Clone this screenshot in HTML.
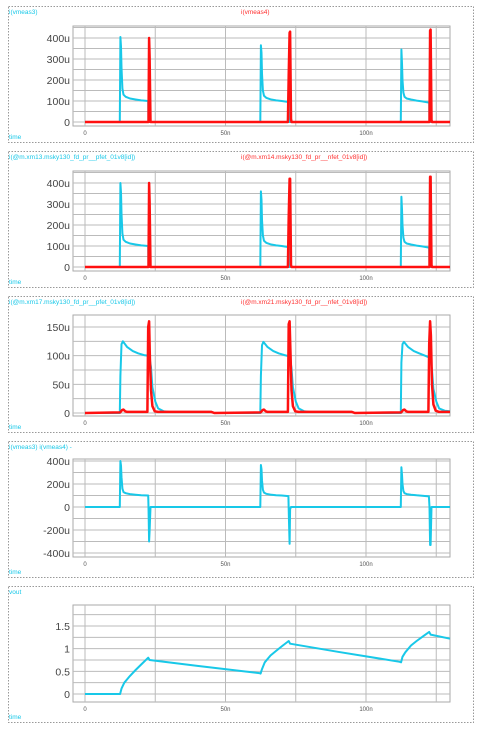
<!DOCTYPE html>
<html><head><meta charset="utf-8"><style>
html,body{margin:0;padding:0;background:#fff;width:482px;height:729px;overflow:hidden}
svg{display:block}
text{font-family:"Liberation Sans","DejaVu Sans",sans-serif}
</style></head><body>
<svg id="chart" width="482" height="729" xmlns="http://www.w3.org/2000/svg"></svg>
<script>
// time axis (ns)
const xTicks=[0,50,100];
const xTickLabels=["0","50n","100n"];
// panel 1: i(vmeas3), i(vmeas4)  (uA)
const p1BlueT=[0,12.4,12.6,12.8,13.0,13.3,13.7,14.5,16,18,20,22.5,22.6,60,62.4,62.6,62.8,63.0,63.3,63.7,64.5,66,68,70,72.5,72.6,110,112.4,112.6,112.8,113.0,113.3,113.7,114.5,116,118,120,122.5,122.6,130];
const p1BlueV=[0,0,405,360,260,160,130,120,112,107,103,100,0,0,0,365,330,230,150,125,115,108,103,100,95,0,0,0,345,280,200,140,120,112,107,102,98,92,0,0];
const p1RedT=[0,22.6,22.8,23.0,23.3,23.5,72.2,72.5,72.8,73.0,73.3,73.5,122.3,122.6,122.8,123.0,123.3,123.5,130];
const p1RedV=[0,0,400,310,0,0,0,220,425,430,15,0,0,0,435,440,10,0,0];
// panel 2: pfet / nfet id (uA)
const p2BlueT=p1BlueT;
const p2BlueV=[0,0,400,355,255,160,130,120,112,107,103,100,0,0,0,360,320,225,150,125,115,108,103,100,95,0,0,0,335,275,200,140,120,112,107,102,98,92,0,0];
const p2RedT=p1RedT;
const p2RedV=[0,0,400,310,0,0,0,235,420,420,10,0,0,0,430,430,10,0,0];
// panel 3: xm17 / xm21 id (uA)
const p3BlueT=[0,12.4,12.6,13.0,13.5,15,17,19,21,22.5,23.0,23.5,24,25,26,28,30,45,46,60,62.4,62.6,63.0,63.5,65,67,69,71,72.5,73.0,73.5,74,75,76,78,80,95,96,110,112.4,112.6,113.0,113.5,115,117,119,121,122.5,123.0,123.5,124,125,126,128,130];
const p3BlueV=[0,0,65,120,125,115,108,104,101,100,95,80,45,20,8,3,2,2,0,0,0,65,118,124,115,108,104,101,99,95,78,45,20,8,3,2,2,0,0,0,88,120,124,115,108,104,100,97,93,75,42,20,8,4,3];
const p3RedT=[0,12.5,13.2,13.7,14.3,15,22.2,22.5,22.8,23.1,23.5,24,24.8,26,45,46,62.5,63.2,63.7,64.3,65,72.2,72.5,72.8,73.1,73.5,74,74.8,76,95,96,112.5,113.2,113.7,114.3,115,122.2,122.5,122.8,123.1,123.5,124,124.8,126,130];
const p3RedV=[0,1,5,6,3,2,2,150,160,95,40,12,3,2,2,0,1,5,6,3,2,2,155,160,110,40,12,3,2,2,0,1,5,6,3,2,2,120,160,135,50,15,4,2,2];
// panel 4: i(vmeas3) - i(vmeas4) (uA)
const p4T=[0,12.4,12.6,12.8,13.0,13.3,13.7,14.5,16,18,20,22.5,22.6,22.8,23.0,23.3,23.5,62.4,62.6,62.8,63.0,63.3,63.7,64.5,66,68,70,72.4,72.6,72.8,73.0,73.3,73.5,112.4,112.6,112.8,113.0,113.3,113.7,114.5,116,118,120,122.4,122.6,122.8,123.0,123.3,130];
const p4V=[0,0,400,360,260,160,130,120,112,107,103,100,0,-300,-210,0,0,0,365,330,230,150,125,115,108,103,100,95,-130,-320,-20,0,0,0,345,280,200,140,120,112,107,102,98,92,0,-330,-330,0,0];
// panel 5: vout (V)
const p5T=[0,12.5,13,14,16,18,20,22.5,23,40,62,62.5,63,64,66,68,70,72.5,73,90,112,112.5,113,114,116,118,120,122.5,123,130];
const p5V=[0,0,0.12,0.25,0.4,0.53,0.65,0.8,0.75,0.62,0.46,0.45,0.55,0.7,0.85,0.95,1.05,1.17,1.11,0.93,0.71,0.7,0.82,0.92,1.07,1.17,1.26,1.37,1.31,1.22];

const NS="http://www.w3.org/2000/svg";
const svg=document.getElementById('chart');
function el(tag,attrs,parent,txt){const e=document.createElementNS(NS,tag);for(const k in attrs)e.setAttribute(k,attrs[k]);if(txt!==undefined)e.textContent=txt;(parent||svg).appendChild(e);return e;}
const X0=73,X1=450;
function xs(t){return 85+t*2.81;}

const panels=[
 {name:'vmeas-panel',top:6,ptop:26,pbot:126,v0:0,y0:122,v1:400,y1:38,grid:50,gmin:0,gmax:450,ticks:[0,100,200,300,400],tl:["0","100u","200u","300u","400u"],
  lb:"i(vmeas3)",lr:"i(vmeas4)",series:[[p1BlueT,p1BlueV,'#18c8e8',2],[p1RedT,p1RedV,'#ff1010',2.5]]},
 {name:'fet-panel-1',top:151,ptop:171,pbot:271,v0:0,y0:267,v1:400,y1:183,grid:50,gmin:0,gmax:450,ticks:[0,100,200,300,400],tl:["0","100u","200u","300u","400u"],
  lb:"i(@m.xm13.msky130_fd_pr__pfet_01v8[id])",lr:"i(@m.xm14.msky130_fd_pr__nfet_01v8[id])",series:[[p2BlueT,p2BlueV,'#18c8e8',2],[p2RedT,p2RedV,'#ff1010',2.5]]},
 {name:'fet-panel-2',top:296,ptop:315,pbot:416,v0:0,y0:413,v1:150,y1:327,grid:25,gmin:0,gmax:175,ticks:[0,50,100,150],tl:["0","50u","100u","150u"],
  lb:"i(@m.xm17.msky130_fd_pr__pfet_01v8[id])",lr:"i(@m.xm21.msky130_fd_pr__nfet_01v8[id])",series:[[p3BlueT,p3BlueV,'#18c8e8',2],[p3RedT,p3RedV,'#ff1010',2.5]]},
 {name:'diff-panel',top:441,ptop:459,pbot:557,v0:0,y0:507,v1:400,y1:461,grid:100,gmin:-400,gmax:400,ticks:[-400,-200,0,200,400],tl:["-400u","-200u","0","200u","400u"],
  lb:"i(vmeas3) i(vmeas4) -",lr:null,series:[[p4T,p4V,'#18c8e8',2]]},
 {name:'vout-panel',top:586,ptop:605,pbot:702,v0:0,y0:694,v1:1.5,y1:626,grid:0.25,gmin:0,gmax:1.75,ticks:[0,0.5,1,1.5],tl:["0","0.5","1","1.5"],
  lb:"vout",lr:null,series:[[p5T,p5V,'#18c8e8',2]]}
];

panels.forEach((p,i)=>{
  const g=el('g',{},svg);
  
  
  const ys=v=>p.y0+(v-p.v0)*(p.y1-p.y0)/(p.v1-p.v0);
  el('rect',{x:8.5,y:p.top+0.5,width:465,height:136,fill:'none',stroke:'#999','stroke-dasharray':'1.5,1.5','stroke-width':1},g);
  const plot=el('rect',{x:X0,y:p.ptop,width:X1-X0,height:p.pbot-p.ptop,fill:'#fff',stroke:'#aaa','stroke-width':1},g);
  
  
  for(let v=p.gmin;v<=p.gmax+1e-9;v+=p.grid){const y=ys(v);if(y<p.ptop||y>p.pbot)continue;el('line',{x1:X0,x2:X1,y1:y,y2:y,stroke:'#bbb','stroke-width':1},g);}
  for(let t=0;t<=125;t+=25){const x=xs(t);el('line',{x1:x,x2:x,y1:p.ptop,y2:p.pbot,stroke:'#bbb','stroke-width':1},g);}
  p.ticks.forEach((v,k)=>{const t=el('text',{x:70,y:ys(v)+4,'text-anchor':'end','font-size':10.5,fill:'#444'},g,p.tl[k]);});
  xTicks.forEach((v,k)=>{const t=el('text',{x:xs(v),y:p.pbot+9,'text-anchor':'middle','font-size':6,fill:'#555'},g,xTickLabels[k]);});
  const l1=el('text',{x:9,y:p.top+8,'font-size':6.5,fill:'#18c8e8'},g,p.lb);
  
  if(p.lr){const l2=el('text',{x:241,y:p.top+8,'font-size':6.5,fill:'#ff3030'},g,p.lr);}
  const tl=el('text',{x:9,y:p.top+133,'font-size':6.5,fill:'#18c8e8'},g,'time');
  
  p.series.forEach((s,k)=>{
    const [T,V,c,w]=s;
    const pts=T.map((t,j)=>Math.max(X0,Math.min(X1,xs(t))).toFixed(1)+','+ys(V[j]).toFixed(1)).join(' ');
    const pl=el('polyline',{points:pts,fill:'none',stroke:c,'stroke-width':w,'stroke-linejoin':'round'},g);
    
    
  });
});
</script>
</body></html>
